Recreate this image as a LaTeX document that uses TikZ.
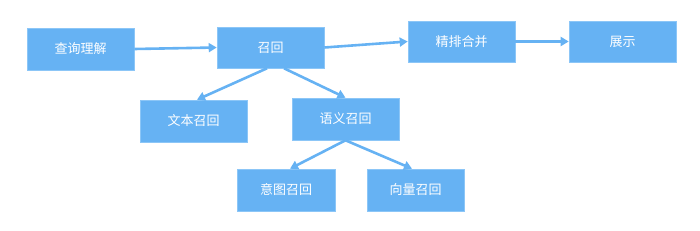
\documentclass[tikz,border=0pt]{standalone}
\usepackage{fontspec}
\setmainfont{Noto Sans CJK SC}
\usetikzlibrary{arrows.meta}
\definecolor{boxblue}{RGB}{102,178,243}
\definecolor{boxedge}{RGB}{140,198,247}
\begin{document}
\begin{tikzpicture}[x=1pt,y=-1pt,
  box/.style={fill=boxblue,draw=boxedge,line width=0.6pt,text=white,minimum width=107pt,minimum height=42pt,inner sep=0pt,font=\fontsize{13pt}{15pt}\selectfont},
  arr/.style={draw=boxblue,line width=2.6pt,-{Triangle[length=8pt,width=9pt]},shorten >=0pt}]
\useasboundingbox (0,0) rectangle (700,230);
\node[box] (q) at (80.5,49) {查询理解};
\node[box,minimum height=41pt] (r) at (270.5,47.5) {召回};
\node[box,minimum height=41pt] (j) at (461.5,41.5) {精排合并};
\node[box,minimum height=41pt] (s) at (622.5,41.5) {展示};
\node[box] (t) at (193.5,121) {文本召回};
\node[box] (y) at (345.5,119) {语义召回};
\node[box,minimum width=98pt] (i) at (286,190) {意图召回};
\node[box,minimum width=97pt] (v) at (415.5,190) {向量召回};
\draw[arr] (q.east) -- (r.west);
\draw[arr] (r.east) -- (j.west);
\draw[arr] (j.east) -- (s.west);
\draw[arr] ([xshift=-3.5pt]r.south) -- ([xshift=3.5pt]t.north);
\draw[arr] ([xshift=13.5pt]r.south) -- (y.north);
\draw[arr] (y.south) -- ([xshift=4pt]i.north);
\draw[arr] (y.south) -- ([xshift=-3.5pt]v.north);
\end{tikzpicture}
\end{document}
